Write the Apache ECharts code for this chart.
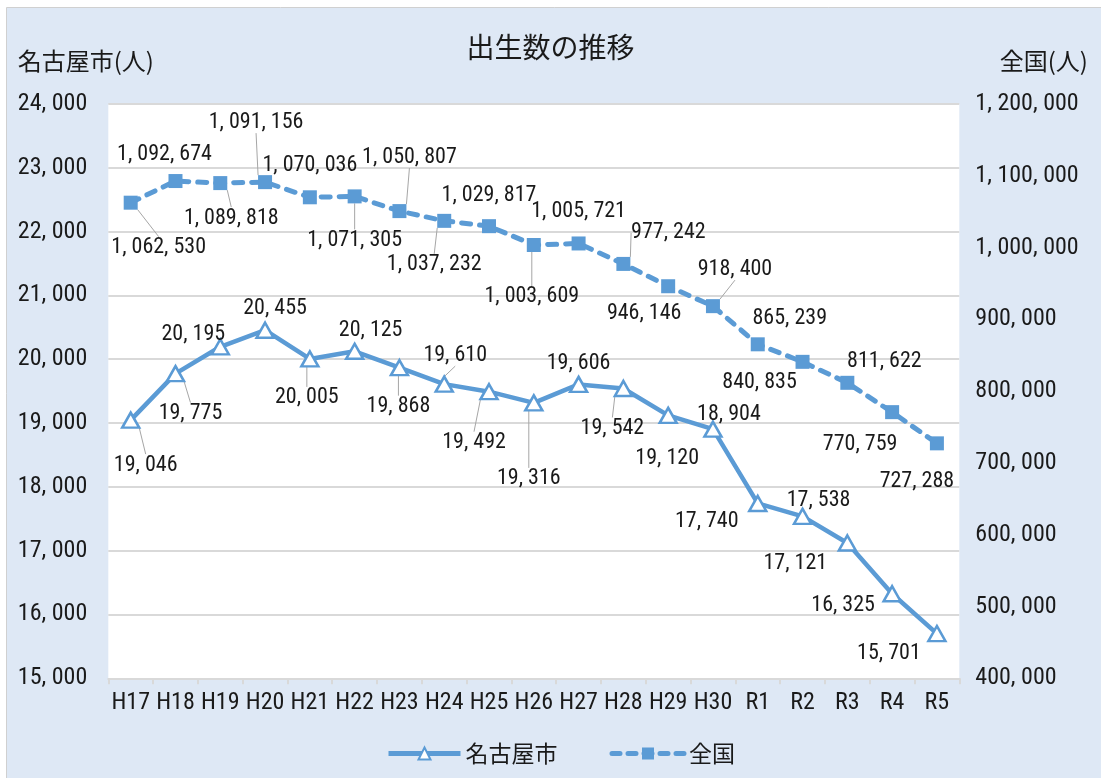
<!DOCTYPE html>
<html>
<head>
<meta charset="utf-8">
<script src="https://cdn.jsdelivr.net/npm/echarts@6/dist/echarts.min.js"></script>
<style>html,body{margin:0;padding:0;background:#fff;}#c{width:1101px;height:778px;}</style>
</head>
<body>
<div id="c"></div>
<script>
const categories = ['H17','H18','H19','H20','H21','H22','H23','H24','H25','H26','H27','H28','H29','H30','R1','R2','R3','R4','R5'];
const nagoya = [19046,19775,20195,20455,20005,20125,19868,19610,19492,19316,19606,19542,19120,18904,17740,17538,17121,16325,15701];
const national = [1062530,1092674,1089818,1091156,1070036,1071305,1050807,1037232,1029817,1003609,1005721,977242,946146,918400,865239,840835,811622,770759,727288];
const leftAxis = {min: 15000, max: 24000, interval: 1000};
const rightAxis = {min: 400000, max: 1200000, interval: 100000};

// label placement (dx, dy from point, leader line flag)
const nagoyaLabelPos = [[15,45,1],[15,40,1],[-27,-12,0],[10,-22,0],[-3,39,1],[16,-21,0],[-1,39,1],[11,-29,1],[-15,51,1],[-5,76,1],[0,-21,0],[-11,40,1],[-1,43,0],[16,-15,0],[-51,18,0],[16,-16,0],[-52,21,0],[-49,12,0],[-48,20,0]];
const nationalLabelPos = [[28,45,1],[-11,-27,0],[11,35,1],[-9,-60,1],[0,-32,0],[0,44,1],[10,-54,1],[-10,44,1],[0,-31,0],[-2,52,1],[0,-32,0],[45,-31,1],[-24,27,0],[22,-37,1],[32,-26,0],[-43,21,0],[37,-21,0],[-32,32,0],[-20,38,0]];

const NUM_FONT = "Roboto, 'Noto Sans CJK JP', sans-serif";
const NUM_WEIGHT = 'condensed';
const JP_FONT = "'Noto Sans CJK JP', sans-serif";
const BLUE = '#5b9bd5';
const fmt = v => Number(v).toLocaleString('en-US').replace(/,/g, ', ');

const chart = echarts.init(document.getElementById('c'), null, {renderer: 'canvas'});

function mkData(vals, pos) {
  return vals.map((v, i) => ({value: v, labelLine: {show: !!pos[i][2]}}));
}

const labelCommon = {
  show: true, position: 'inside', fontFamily: NUM_FONT, fontWeight: NUM_WEIGHT, fontSize: 22, color: '#1a1a1a',
  formatter: p => fmt(p.value)
};
const labelLineCommon = {show: true, smooth: false, length2: 0, lineStyle: {color: '#a6a6a6', width: 1}};

chart.setOption({
  backgroundColor: '#ffffff',
  animation: false,
  graphic: [{
    type: 'rect', z: -10, silent: true,
    shape: {x: 6.5, y: 7.5, width: 1100, height: 780},
    style: {fill: '#dee8f5', stroke: '#d0d0d0', lineWidth: 1}
  }],
  title: {
    text: '出生数の推移', left: 'center', top: 28,
    textStyle: {fontFamily: JP_FONT, fontSize: 28, fontWeight: 'normal', color: '#1a1a1a'}
  },
  legend: {
    left: 381, bottom: 8, itemWidth: 72, itemHeight: 15, itemGap: 52,
    textStyle: {fontFamily: JP_FONT, fontSize: 23, color: '#1a1a1a'},
    data: [
      {name: '名古屋市', lineStyle: {width: 5}},
      {name: '全国', lineStyle: {width: 5, type: [8, 8], cap: 'round'}}
    ]
  },
  grid: {left: 108.3, right: 141.7, top: 104, bottom: 99.7, show: true, backgroundColor: '#ffffff', borderWidth: 0},
  xAxis: {
    type: 'category', data: categories, boundaryGap: true,
    axisLine: {show: true, lineStyle: {color: '#d9d9d9', width: 2}},
    axisTick: {show: true, length: 6, lineStyle: {color: '#d9d9d9', width: 2}},
    axisLabel: {fontFamily: NUM_FONT, fontWeight: NUM_WEIGHT, fontSize: 24, color: '#1a1a1a', margin: 13, interval: 0}
  },
  yAxis: [{
    type: 'value', position: 'left', min: leftAxis.min, max: leftAxis.max, interval: leftAxis.interval,
    name: '名古屋市(人)', nameLocation: 'end', nameGap: 31,
    nameTextStyle: {fontFamily: JP_FONT, fontSize: 24, color: '#1a1a1a', align: 'center', padding: [0, 45, 0, 0]},
    axisLine: {show: false}, axisTick: {show: false},
    splitLine: {show: true, lineStyle: {color: '#d9d9d9', width: 2}},
    axisLabel: {fontFamily: NUM_FONT, fontWeight: NUM_WEIGHT, fontSize: 24, color: '#1a1a1a', margin: 21, formatter: v => fmt(v)}
  }, {
    type: 'value', position: 'right', min: rightAxis.min, max: rightAxis.max, interval: rightAxis.interval,
    name: '全国(人)', nameLocation: 'end', nameGap: 31,
    nameTextStyle: {fontFamily: JP_FONT, fontSize: 24, color: '#1a1a1a', align: 'center', padding: [0, 0, 0, 169]},
    axisLine: {show: false}, axisTick: {show: false}, splitLine: {show: false},
    axisLabel: {fontFamily: NUM_FONT, fontWeight: NUM_WEIGHT, fontSize: 24, color: '#1a1a1a', margin: 16, formatter: v => fmt(v)}
  }],
  series: [{
    name: '名古屋市', type: 'line', yAxisIndex: 0,
    data: mkData(nagoya, nagoyaLabelPos),
    symbol: 'triangle', symbolSize: [17, 15],
    lineStyle: {color: BLUE, width: 4.5},
    itemStyle: {color: '#ffffff', borderColor: BLUE, borderWidth: 2.5},
    label: labelCommon,
    labelLine: labelLineCommon,
    labelLayout: p => ({dx: nagoyaLabelPos[p.dataIndex][0], dy: nagoyaLabelPos[p.dataIndex][1]}),
    z: 3
  }, {
    name: '全国', type: 'line', yAxisIndex: 1,
    data: mkData(national, nationalLabelPos),
    symbol: 'rect', symbolSize: 14,
    lineStyle: {color: BLUE, width: 5, type: [9, 9], cap: 'round'},
    itemStyle: {color: BLUE, borderColor: BLUE, borderWidth: 0},
    label: labelCommon,
    labelLine: labelLineCommon,
    labelLayout: p => ({dx: nationalLabelPos[p.dataIndex][0], dy: nationalLabelPos[p.dataIndex][1]}),
    z: 3
  }]
});
</script>
</body>
</html>
